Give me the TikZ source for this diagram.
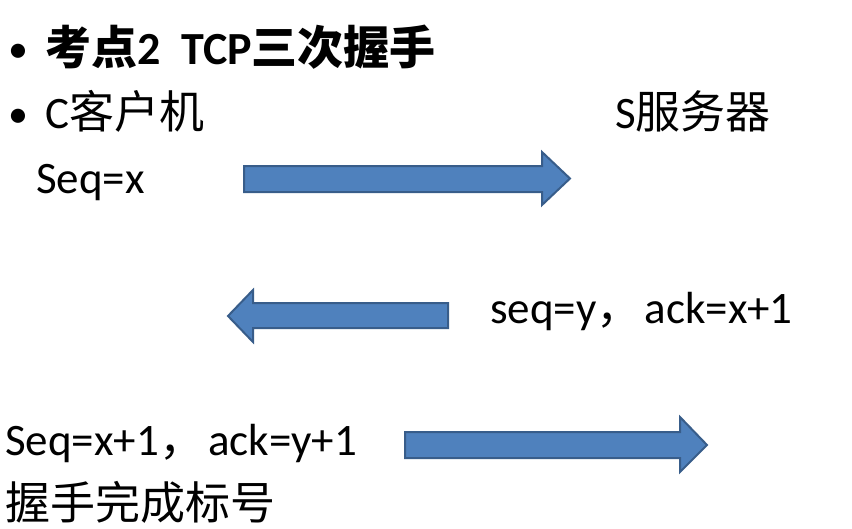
\documentclass[tikz,border=0pt]{standalone}
\usepackage{fontspec}
\setmainfont{Carlito}
\newfontfamily\cjk{Noto Sans CJK SC}
\usetikzlibrary{positioning}
\definecolor{arrowfill}{RGB}{79,129,189}
\definecolor{arrowline}{RGB}{56,93,138}
\newcommand{\zh}[1]{{\cjk #1}}
\tikzset{
  blockarrow/.style={fill=arrowfill, draw=arrowline, line width=2pt, line join=miter},
  slidetext/.style={anchor=base west, inner sep=0pt, font=\fontsize{45}{50}\selectfont},
  bullet/.style={anchor=base west, inner sep=0pt, font=\fontsize{40}{50}\selectfont}
}

\begin{document}
\begin{tikzpicture}[x=1pt,y=-1pt]
  \useasboundingbox (0,0) rectangle (852,528);
  % bullets and headings
  \node[bullet] (dot1) at (8,62) {\textbullet};
  \node[bullet] (dot2) at (8,127) {\textbullet};
  \node[slidetext, font=\fontsize{46}{50}\selectfont] (title) at (45,64) {\bfseries\zh{考点}2\ \ TCP\zh{三次握手}};
  \node[slidetext] (client) at (45,128) {C\zh{客户机}};
  \node[slidetext] (server) at (615,128) {S\zh{服务器}};
  % first handshake
  \node[slidetext] (syn) at (36,193) {Seq=x};
  \draw[blockarrow] (244,166) -- (542,166) -- (542,152) -- (570,178.5)
    -- (542,205) -- (542,192) -- (244,192) -- cycle;
  % second handshake
  \node[slidetext] (synack) at (490,323) {seq=y\zh{，}\hspace{3pt}ack=x+1};
  \draw[blockarrow] (448,303) -- (253,303) -- (253,290) -- (228,316)
    -- (253,342) -- (253,328) -- (448,328) -- cycle;
  % third handshake
  \node[slidetext] (ack) at (5,455) {Seq=x+1\zh{，}\hspace{4pt}ack=y+1};
  \node[slidetext] (done) at (5,519) {\zh{握手完成标号}};
  \draw[blockarrow] (405,432) -- (680,432) -- (680,417) -- (707,445)
    -- (680,472) -- (680,458) -- (405,458) -- cycle;
\end{tikzpicture}
\end{document}
